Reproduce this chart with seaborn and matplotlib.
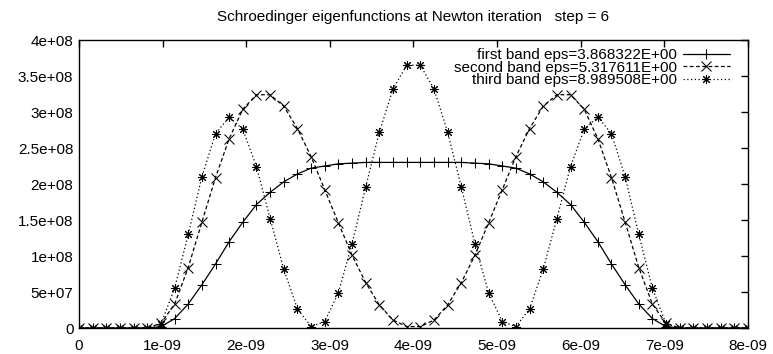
import numpy as np
import pandas as pd
import matplotlib
matplotlib.use("Agg")
import matplotlib.pyplot as plt
import seaborn as sns

# ---------------- data ----------------
x_start = 0.0
x_end = 8e-9
n_points = 50

first_band = [0, 0, 0, 0, 0, 0, 0.018, 0.13, 0.333, 0.60, 0.89, 1.20, 1.47, 1.715, 1.885,
              2.03, 2.14, 2.22, 2.25, 2.28, 2.29, 2.30, 2.30, 2.30, 2.30,
              2.30, 2.30, 2.30, 2.30, 2.29, 2.28, 2.25, 2.22, 2.14, 2.03,
              1.885, 1.715, 1.47, 1.20, 0.89, 0.60, 0.333, 0.13, 0.018, 0, 0, 0, 0, 0, 0]
second_band = [0, 0, 0, 0, 0, 0, 0.065, 0.33, 0.84, 1.47, 2.09, 2.63, 3.04, 3.24, 3.24,
               3.08, 2.77, 2.38, 1.92, 1.46, 1.01, 0.63, 0.32, 0.11, 0.02,
               0.02, 0.11, 0.32, 0.63, 1.01, 1.46, 1.92, 2.38, 2.77, 3.08,
               3.24, 3.24, 3.04, 2.63, 2.09, 1.47, 0.84, 0.33, 0.065, 0, 0, 0, 0, 0, 0]
third_band = [0, 0, 0, 0, 0, 0, 0.055, 0.55, 1.30, 2.10, 2.70, 2.93, 2.76, 2.24, 1.52,
              0.815, 0.265, 0.02, 0.09, 0.49, 1.17, 1.96, 2.72, 3.32, 3.65,
              3.65, 3.32, 2.72, 1.96, 1.17, 0.49, 0.09, 0.02, 0.265, 0.815,
              1.52, 2.24, 2.76, 2.93, 2.70, 2.10, 1.30, 0.55, 0.055, 0, 0, 0, 0, 0, 0]
value_unit = 1e8

labels = ["first band eps=3.868322E+00",
          "second band eps=5.317611E+00",
          "third band eps=8.989508E+00"]

x_ticks = [0, 1e-9, 2e-9, 3e-9, 4e-9, 5e-9, 6e-9, 7e-9, 8e-9]
x_ticklabels = ["0", "1e-09", "2e-09", "3e-09", "4e-09", "5e-09", "6e-09", "7e-09", "8e-09"]
y_ticks = [0, 5e7, 1e8, 1.5e8, 2e8, 2.5e8, 3e8, 3.5e8, 4e8]
y_ticklabels = ["0", "5e+07", "1e+08", "1.5e+08", "2e+08", "2.5e+08", "3e+08", "3.5e+08", "4e+08"]

title = "Schroedinger eigenfunctions at Newton iteration   step = 6"

# ---------------- build table ----------------
xs = np.linspace(x_start, x_end, n_points)
frames = []
for lab, vals in zip(labels, [first_band, second_band, third_band]):
    frames.append(pd.DataFrame({"x": xs, "y": np.array(vals) * value_unit, "band": lab}))
df = pd.concat(frames, ignore_index=True)

# ---------------- style ----------------
sns.set_theme(style="white")
plt.rcParams["font.family"] = ["Liberation Sans", "DejaVu Sans"]
plt.rcParams["axes.edgecolor"] = "black"
plt.rcParams["axes.linewidth"] = 1.0

fig = plt.figure(figsize=(7.73, 3.54), dpi=100)
ax = fig.add_axes([79 / 773, 1 - 328 / 354, (748 - 79) / 773, (328 - 40) / 354])

asterisk = (8, 2, 0)
sns.lineplot(data=df, x="x", y="y", hue="band", style="band",
             hue_order=labels, style_order=labels,
             palette=["black", "black", "black"],
             dashes=[(None, None), (3, 2), (1, 2)],
             markers=["+", "x", asterisk],
             markersize=6.5, markeredgewidth=0.75, markeredgecolor="black",
             linewidth=0.9, ax=ax, legend=True)

lines = ax.get_lines()
if lines:
    lines[0].set_linestyle("-")

ax.set_xlim(x_start, x_end)
ax.set_ylim(0, 4e8)
ax.set_xticks(x_ticks)
ax.set_xticklabels(x_ticklabels)
ax.set_yticks(y_ticks)
ax.set_yticklabels(y_ticklabels)
ax.tick_params(direction="in", length=5, width=1, top=True, right=True,
               labelsize=11, colors="black", pad=4)
ax.tick_params(axis="x", pad=8)
for s in ax.spines.values():
    s.set_visible(True)
    s.set_color("black")
ax.set_xlabel("")
ax.set_ylabel("")
ax.set_title(title, fontsize=11, pad=14, color="black")

handles, labs = ax.get_legend_handles_labels()
for h, lb in zip(handles, labs):
    if lb == labels[0] and hasattr(h, "set_linestyle"):
        h.set_linestyle("-")
leg = ax.legend(handles, labs, loc="upper right", bbox_to_anchor=(0.973, 0.972),
                frameon=False, markerfirst=False, fontsize=11,
                handlelength=3.1, handletextpad=0.35, labelspacing=-0.09,
                borderpad=0, borderaxespad=0, numpoints=1)
for t in leg.get_texts():
    t.set_color("black")

fig.savefig("out.png", dpi=100)
